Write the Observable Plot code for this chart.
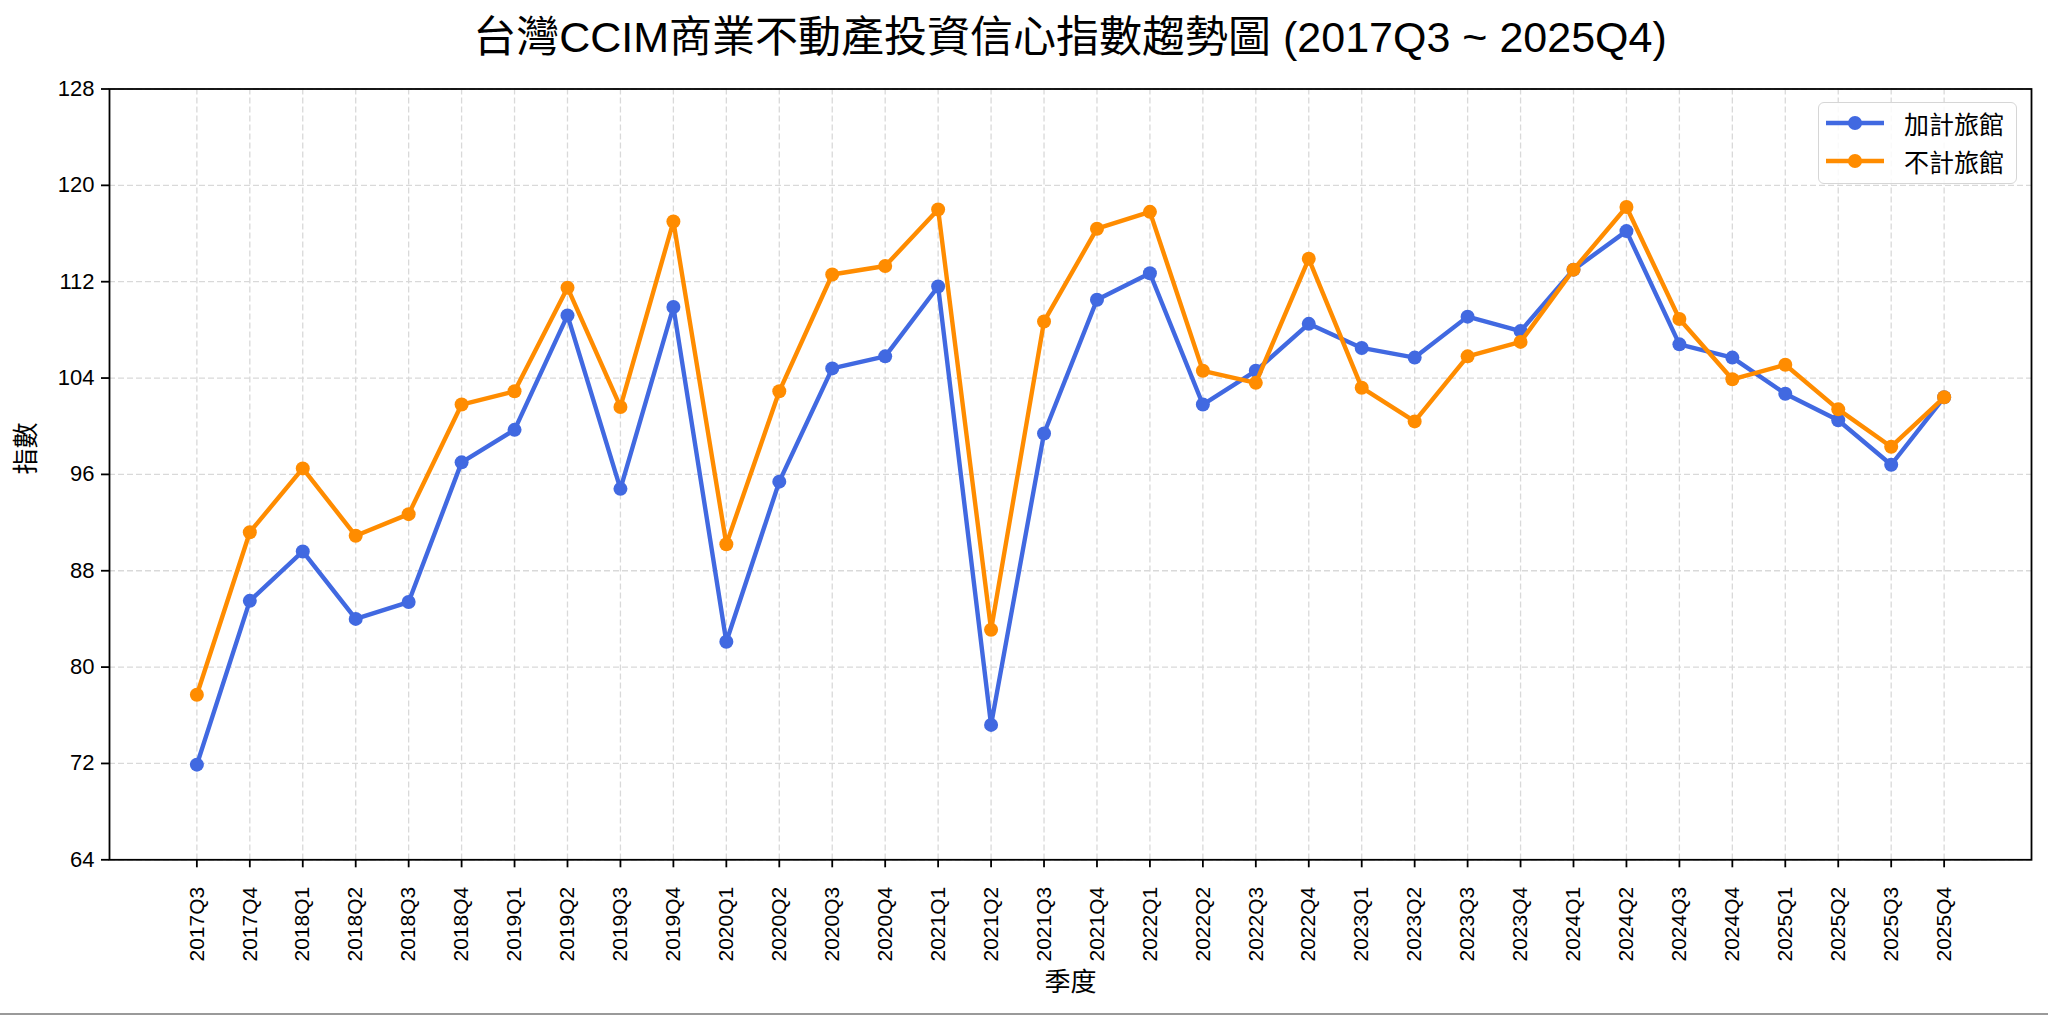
<!DOCTYPE html>
<html>
<head>
<meta charset="utf-8">
<script src="https://cdn.jsdelivr.net/npm/d3@7"></script>
<script src="https://cdn.jsdelivr.net/npm/@observablehq/plot@0.6"></script>
<style>
  html, body { margin: 0; padding: 0; background: #fff; }
  #wrap { position: relative; width: 2048px; height: 1015px; overflow: hidden;
          font-family: "Liberation Sans", "Noto Sans CJK TC", sans-serif; color: #000; }
  #title { position: absolute; left: 0; width: 2140px; top: 12px; text-align: center;
           font-size: 43px; line-height: 50px; white-space: nowrap; }
  #legend { position: absolute; left: 1818px; top: 102px; width: 197px; height: 80px;
            border: 1.5px solid #d6d6d6; border-radius: 6px; background: rgba(255,255,255,0.85); }
  .row { position: absolute; left: 0; height: 38px; display: flex; align-items: center; }
  .row svg { margin-left: 7px; }
  .row span { margin-left: 20px; font-size: 25px; }
  #bottombar { position: absolute; left: 0; bottom: 0; width: 2048px; height: 2px; background: #9a9a9a; }
</style>
</head>
<body>
<div id="wrap">
  <div id="chart"></div>
  <div id="title">台灣CCIM商業不動產投資信心指數趨勢圖 (2017Q3 ~ 2025Q4)</div>
  <div id="legend"></div>
  <div id="bottombar"></div>
</div>
<script>
const quarters = ["2017Q3","2017Q4","2018Q1","2018Q2","2018Q3","2018Q4","2019Q1","2019Q2","2019Q3","2019Q4",
  "2020Q1","2020Q2","2020Q3","2020Q4","2021Q1","2021Q2","2021Q3","2021Q4","2022Q1","2022Q2",
  "2022Q3","2022Q4","2023Q1","2023Q2","2023Q3","2023Q4","2024Q1","2024Q2","2024Q3","2024Q4",
  "2025Q1","2025Q2","2025Q3","2025Q4"];
const withHotel = [71.9, 85.5, 89.6, 84.0, 85.4, 97.0, 99.7, 109.2, 94.8, 109.9,
  82.1, 95.4, 104.8, 105.8, 111.6, 75.2, 99.4, 110.5, 112.7, 101.8,
  104.6, 108.5, 106.5, 105.7, 109.1, 107.9, 113.0, 116.2, 106.8, 105.7,
  102.7, 100.5, 96.8, 102.4];
const withoutHotel = [77.7, 91.2, 96.5, 90.9, 92.7, 101.8, 102.9, 111.5, 101.6, 117.0,
  90.2, 102.9, 112.6, 113.3, 118.0, 83.1, 108.7, 116.4, 117.8, 104.6,
  103.6, 113.9, 103.2, 100.4, 105.8, 107.0, 113.0, 118.2, 108.9, 103.9,
  105.1, 101.4, 98.3, 102.4];
const seriesNames = ["加計旅館", "不計旅館"];
const seriesColors = ["#4169E1", "#FF8C00"];
const yTicks = [64, 72, 80, 88, 96, 104, 112, 120, 128];
const xLabel = "季度";
const yLabel = "指數";

const dataA = quarters.map((q, i) => ({q, v: withHotel[i]}));
const dataB = quarters.map((q, i) => ({q, v: withoutHotel[i]}));

const font = '"Liberation Sans", "Noto Sans CJK TC", sans-serif';
const grid = {stroke: "#d9d9d9", strokeOpacity: 1, strokeWidth: 1.3, strokeDasharray: "6,3"};

const chart = Plot.plot({
  width: 2048,
  height: 1015,
  marginTop: 88.5,
  marginBottom: 155.7,
  marginLeft: 109,
  marginRight: 17,
  style: {fontFamily: font, color: "#000", background: "#fff"},
  x: {type: "point", domain: quarters, padding: 1.65},
  y: {domain: [64, 128]},
  marks: [
    Plot.gridX(quarters, grid),
    Plot.gridY(yTicks, grid),
    Plot.axisY({ticks: yTicks, tickSize: 8, tickPadding: 7, fontSize: 22, strokeWidth: 1.8, label: null}),
    Plot.axisX({tickRotate: -90, tickSize: 8, tickPadding: 19, fontSize: 21, strokeWidth: 1.8, label: null}),
    Plot.line(dataA, {x: "q", y: "v", stroke: seriesColors[0], strokeWidth: 4.4}),
    Plot.dot(dataA, {x: "q", y: "v", fill: seriesColors[0], r: 7}),
    Plot.line(dataB, {x: "q", y: "v", stroke: seriesColors[1], strokeWidth: 4.4}),
    Plot.dot(dataB, {x: "q", y: "v", fill: seriesColors[1], r: 7}),
    Plot.frame({stroke: "#000", strokeWidth: 1.8}),
    Plot.text([yLabel], {frameAnchor: "left", dx: -83, rotate: -90, fontSize: 26, fill: "#000"}),
    Plot.text([xLabel], {frameAnchor: "bottom", dy: 131, fontSize: 26, fill: "#000"})
  ]
});
document.getElementById("chart").appendChild(chart);

const legend = document.getElementById("legend");
seriesNames.forEach((name, i) => {
  const row = document.createElement("div");
  row.className = "row";
  row.style.top = (i === 0 ? 1 : 39) + "px";
  row.innerHTML = `<svg width="58" height="20"><line x1="0" y1="10" x2="58" y2="10" stroke="${seriesColors[i]}" stroke-width="4.4"/><circle cx="29" cy="10" r="7" fill="${seriesColors[i]}"/></svg><span>${name}</span>`;
  legend.appendChild(row);
});
</script>
</body>
</html>
